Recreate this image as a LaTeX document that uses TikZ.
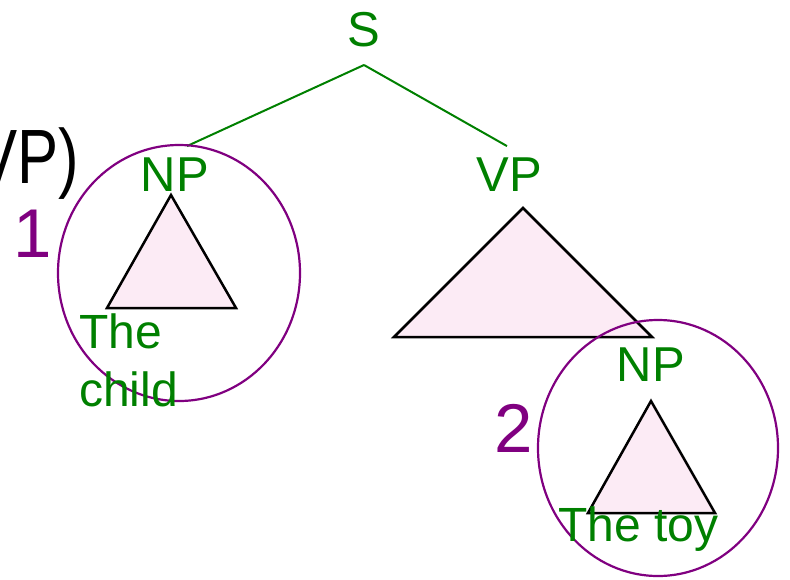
\documentclass[tikz,border=0pt]{standalone}
\usepackage{fontspec}
\setmainfont{Liberation Sans}
\definecolor{treegreen}{RGB}{0,128,0}
\definecolor{ringpurple}{RGB}{128,0,128}
\definecolor{tripink}{RGB}{252,235,245}
\tikzset{
    cat/.style={text=treegreen, font=\fontsize{49}{58}\selectfont, inner sep=0, anchor=base},
    word/.style={text=treegreen, font=\fontsize{48}{56}\selectfont, inner sep=0, anchor=base west},
    numlabel/.style={text=ringpurple, font=\fontsize{69}{78}\selectfont, inner sep=0, anchor=base},
    branch/.style={draw=treegreen, line width=2pt},
    tri/.style={draw=black, fill=tripink, line width=2.5pt, line join=miter},
    ring/.style={draw=ringpurple, line width=2.2pt}
}
\begin{document}
\begin{tikzpicture}[x=1pt, y=-1pt]
    \useasboundingbox (0,0) rectangle (790,579);

    % Category labels
    \node[cat] (S) at (364,46) {S};
    \node[cat] (NPa) at (175,191) {NP};
    \node[cat] (VP) at (509,191) {VP};
    \node[cat] (NPb) at (651,381) {NP};
    \node[inner sep=0, anchor=base east, font=\fontsize{77}{86}\selectfont] (rest) at (79,183) {\scalebox{0.8}[1]{VP)}};

    % Branches from S
    \draw[branch] ([yshift=-19pt]S.base) -- ([xshift=12pt,yshift=11pt]NPa.north);
    \draw[branch] ([yshift=-19pt]S.base) -- ([xshift=-2pt,yshift=11pt]VP.north);

    % Triangles
    \draw[tri] (171,195) -- (236,308) -- (107,308) -- cycle;
    \draw[tri] (523,208) -- (652,337) -- (394,337) -- cycle;
    \draw[tri] (651,401) -- (715,513) -- (588,513) -- cycle;

    % Circled constituents
    \draw[ring] (179,273) ellipse [x radius=121pt, y radius=128pt];
    \draw[ring] (658,448) ellipse [x radius=120pt, y radius=128pt];
    \node[numlabel] (one) at (33,257) {1};
    \node[numlabel] (two) at (514,452) {2};

    % Words
    \node[word] (the) at (79,348) {The};
    \node[word] (child) at (79,406) {child};
    \node[word] (toy) at (558,541) {The toy};
\end{tikzpicture}
\end{document}
